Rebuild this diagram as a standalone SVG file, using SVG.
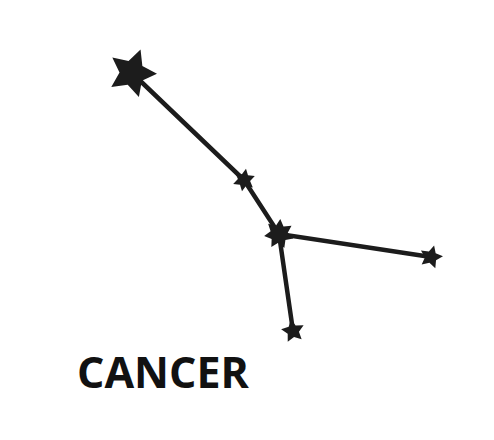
<svg xmlns="http://www.w3.org/2000/svg" xmlns:xlink="http://www.w3.org/1999/xlink" width="494" height="440" viewBox="0 0 494 440">
<style>
.ln{stroke:#1c1c1c;stroke-width:4.5;stroke-linecap:round;fill:none}
.st{fill:#1c1c1c}
.lbl{font-family:"Open Sans","Liberation Sans",sans-serif;font-weight:bold;font-size:43px;fill:#111}
</style>
<defs>
<polygon id="s5" points="0,-100 29.39,-40.45 95.11,-30.9 47.55,15.45 58.78,80.9 0,50 -58.78,80.9 -47.55,15.45 -95.11,-30.9 -29.39,-40.45"/>
<polygon id="s6" points="0,-100 27,-46.8 86.6,-50 54,0 86.6,50 27,46.8 0,100 -27,46.8 -86.6,50 -54,0 -86.6,-50 -27,-46.8"/>
<polygon id="s7" points="0,-100 25.6,-53.1 78.18,-62.35 57.5,-13.1 97.49,22.25 46.1,36.8 43.39,90.1 0,59 -43.39,90.1 -46.1,36.8 -97.49,22.25 -57.5,-13.1 -78.18,-62.35 -25.6,-53.1"/>
</defs>
<rect width="494" height="440" fill="#fff"/>
<g id="connectors">
<polyline class="ln" points="132,73 244,180 279,234 431,257"/>
<line class="ln" x1="279" y1="234" x2="293" y2="331"/>
</g>
<g id="star1"><use xlink:href="#s5" class="st" transform="translate(132,73) rotate(20) scale(0.25)"/></g>
<g id="star2"><use xlink:href="#s6" class="st" transform="translate(244,180) rotate(10) scale(0.115)"/></g>
<g id="star3"><use xlink:href="#s7" class="st" transform="translate(279,234) rotate(5) scale(0.15)"/></g>
<g id="star4"><use xlink:href="#s5" class="st" transform="translate(431,257) rotate(15) scale(0.12)"/></g>
<g id="star5"><use xlink:href="#s5" class="st" transform="translate(293,331) rotate(-10) scale(0.12)"/></g>
<g id="label"><text class="lbl" x="77" y="388">CANCER</text></g>
</svg>
